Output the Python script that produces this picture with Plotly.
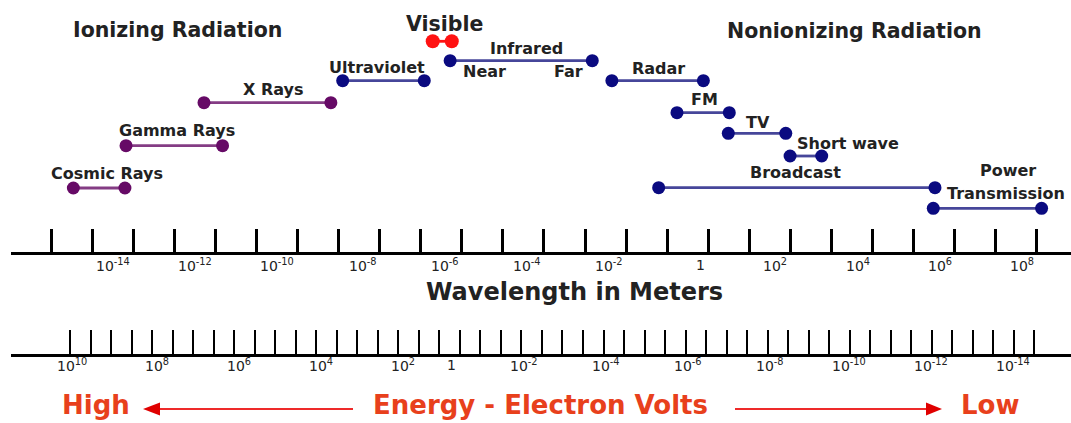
import math
import plotly.graph_objects as go

# ---------------- data ----------------
band_names = ["Cosmic Rays", "Gamma Rays", "X Rays", "Ultraviolet", "Visible", "Infrared",
              "Radar", "FM", "TV", "Short wave", "Broadcast", "Power Transmission"]
band_lo_m = [3.5e-16, 6.7e-15, 5.3e-13, 1.26e-9, 1.96e-7, 5.2e-7,
             4.5e-3, 0.173, 3.07, 98.0, 0.062, 3.0e5]
band_hi_m = [6.3e-15, 1.5e-12, 6.5e-10, 1.22e-7, 5.7e-7, 1.5e-3,
             0.76, 3.25, 77.0, 577.0, 3.3e5, 1.3e8]
band_kind = ["ionizing", "ionizing", "ionizing", "nonionizing", "visible", "nonionizing",
             "nonionizing", "nonionizing", "nonionizing", "nonionizing", "nonionizing", "nonionizing"]

wavelength_tick_exp = [-16, -15, -14, -13, -12, -11, -10, -9, -8, -7, -6, -5, -4,
                       -3, -2, -1, 0, 1, 2, 3, 4, 5, 6, 7, 8]
wavelength_label_exp = [-14, -12, -10, -8, -6, -4, -2, 0, 2, 4, 6, 8]

energy_tick_count = 48
energy_labels = ["10<sup>10</sup>", "10<sup>8</sup>", "10<sup>6</sup>", "10<sup>4</sup>",
                 "10<sup>2</sup>", "1", "10<sup>-2</sup>", "10<sup>-4</sup>", "10<sup>-6</sup>",
                 "10<sup>-8</sup>", "10<sup>-10</sup>", "10<sup>-12</sup>", "10<sup>-14</sup>"]
energy_label_tick = [1, 5, 9, 13, 17, 19, 23, 27, 31, 35, 39, 43, 47]

# ---------------- layout / style ----------------
W, H = 1071, 423
FONT = "DejaVu Sans"
def px_x(p): return p / W
def px_y(p): return 1 - p / H

# wavelength axis: 10^-16 at px 51, 41.08 px per decade
AX_LEFT = 11
L0 = -16 + (AX_LEFT - 51) / 41.08
L1 = -16 + (W - 51) / 41.08
TOP_AXIS_Y = 252
BOT_AXIS_Y = 354
# energy axis: tick 0 at px 70, 20.52 px per tick
E0 = (AX_LEFT - 70) / 20.52
E1 = (W - 70) / 20.52

row_y = {"Cosmic Rays": 188, "Gamma Rays": 145.7, "X Rays": 102.7, "Ultraviolet": 80.7,
         "Visible": 41.3, "Infrared": 60.7, "Radar": 80.7, "FM": 112.7, "TV": 133.3,
         "Short wave": 156, "Broadcast": 187.7, "Power Transmission": 208.3}
label_dx = {"Cosmic Rays": 8, "Gamma Rays": 3, "X Rays": 6, "Ultraviolet": -6,
            "Infrared": 5, "Radar": 1, "FM": 1, "TV": 1, "Short wave": 42, "Broadcast": -1}
label_dy = {"Cosmic Rays": 15, "Gamma Rays": 15.5, "X Rays": 13, "Ultraviolet": 13,
            "Infrared": 12.5, "Radar": 12.5, "FM": 13, "TV": 10.5, "Short wave": 13,
            "Broadcast": 15}
kind_style = {
    "ionizing": dict(marker="#660a66", line="#843c84"),
    "nonionizing": dict(marker="#0a0a80", line="#46469a"),
    "visible": dict(marker="#ff1212", line="#ff1212"),
}

fig = go.Figure()

for name, lo, hi, kind in zip(band_names, band_lo_m, band_hi_m, band_kind):
    st = kind_style[kind]
    y = row_y[name]
    fig.add_trace(go.Scatter(
        x=[lo, hi], y=[y, y], mode="lines+markers",
        line=dict(color=st["line"], width=2.8),
        marker=dict(color=st["marker"], size=14 if kind == "visible" else 13, line=dict(width=0)),
        hoverinfo="skip", showlegend=False, xaxis="x", yaxis="y"))

# energy axis carrier trace (invisible)
fig.add_trace(go.Scatter(x=[0, energy_tick_count - 1], y=[0, 0], mode="markers",
                         marker=dict(opacity=0), hoverinfo="skip", showlegend=False,
                         xaxis="x2", yaxis="y2"))

annotations = []
def ann(**kw):
    kw.setdefault("showarrow", False)
    kw.setdefault("xanchor", "center")
    kw.setdefault("yanchor", "middle")
    annotations.append(kw)

label_font = dict(family=FONT, size=16, color="#222222", weight="bold")
for name, lo, hi in zip(band_names, band_lo_m, band_hi_m):
    y = row_y[name]
    mid = (math.log10(lo) + math.log10(hi)) / 2
    if name == "Visible":
        continue
    if name == "Power Transmission":
        ann(x=mid, y=y, xref="x", yref="y", text="Power", xshift=21, yshift=38, font=label_font)
        ann(x=mid, y=y, xref="x", yref="y", text="Transmission", xshift=19, yshift=15,
            font=label_font)
        continue
    ann(x=mid, y=y, xref="x", yref="y", text=name, xshift=label_dx[name],
        yshift=label_dy[name], font=label_font)
    if name == "Infrared":
        ann(x=math.log10(lo), y=y, xref="x", yref="y", text="Near", xanchor="left",
            xshift=11, yshift=-11, font=label_font)
        ann(x=math.log10(hi), y=y, xref="x", yref="y", text="Far", xanchor="right",
            xshift=-7, yshift=-11, font=label_font)

# titles
title_font = dict(family=FONT, size=20.5, color="#222222", weight="bold")
ann(x=px_x(177.5), y=px_y(30), xref="paper", yref="paper", text="Ionizing Radiation",
    font=title_font)
ann(x=px_x(854), y=px_y(31), xref="paper", yref="paper", text="Nonionizing Radiation",
    font=title_font)
ann(x=px_x(444), y=px_y(24), xref="paper", yref="paper", text="Visible", font=title_font)

# wavelength tick labels
tick_font = dict(family=FONT, size=14, color="#222222")
for e in wavelength_label_exp:
    txt = "1" if e == 0 else "10<sup>%d</sup>" % e
    ann(x=e, y=px_y(265), xref="x", yref="paper", text=txt, xanchor="right", xshift=-1,
        font=tick_font)
ann(x=px_x(574), y=px_y(292), xref="paper", yref="paper", text="Wavelength in Meters",
    font=dict(family=FONT, size=24, color="#222222", weight="bold"))

# energy tick labels
for txt, t in zip(energy_labels, energy_label_tick):
    ann(x=t, y=px_y(365), xref="x2", yref="paper", text=txt, xanchor="right", xshift=-2,
        font=tick_font)

red_font = dict(family=FONT, size=26, color="#e8401c", weight="bold")
ann(x=px_x(96), y=px_y(405), xref="paper", yref="paper", text="High", font=red_font)
ann(x=px_x(540), y=px_y(405), xref="paper", yref="paper", text="Energy - Electron Volts",
    font=red_font)
ann(x=px_x(990), y=px_y(405), xref="paper", yref="paper", text="Low", font=red_font)

shapes = []
ARROW_Y = 409
for x_tail, x_base, x_tip in [(353, 160, 143), (735, 926, 942)]:
    shapes.append(dict(type="line", xref="paper", yref="paper",
                       x0=px_x(x_tail), x1=px_x(x_base), y0=px_y(ARROW_Y), y1=px_y(ARROW_Y),
                       line=dict(color="#ee2a2a", width=2)))
    shapes.append(dict(type="path", xref="paper", yref="paper",
                       path="M%f,%f L%f,%f L%f,%f Z" % (px_x(x_tip), px_y(ARROW_Y),
                                                        px_x(x_base), px_y(ARROW_Y - 6.5),
                                                        px_x(x_base), px_y(ARROW_Y + 6.5)),
                       fillcolor="#e00000", line=dict(width=0)))

fig.update_layout(
    width=W, height=H, margin=dict(l=0, r=0, t=0, b=0),
    paper_bgcolor="white", plot_bgcolor="white",
    annotations=annotations, shapes=shapes,
    xaxis=dict(type="log", domain=[px_x(AX_LEFT), 1], range=[L0, L1],
               tickmode="array", tickvals=[10 ** e for e in wavelength_tick_exp],
               ticks="inside", ticklen=23, tickwidth=2.5, tickcolor="black",
               showline=True, linewidth=3, linecolor="black", showticklabels=False,
               showgrid=False, zeroline=False, anchor="y"),
    yaxis=dict(domain=[px_y(TOP_AXIS_Y), 1], range=[TOP_AXIS_Y, 0], visible=False,
               showgrid=False, zeroline=False),
    xaxis2=dict(domain=[px_x(AX_LEFT), 1], range=[E0, E1], tickmode="array",
                tickvals=list(range(energy_tick_count)), ticks="inside", ticklen=24,
                tickwidth=2.3, tickcolor="black", showline=True, linewidth=3,
                linecolor="black", showticklabels=False, showgrid=False, zeroline=False,
                anchor="y2"),
    yaxis2=dict(domain=[px_y(BOT_AXIS_Y), px_y(BOT_AXIS_Y) + 0.05], range=[0, 1],
                visible=False, showgrid=False, zeroline=False),
)

fig.write_html("out.html", config={"displayModeBar": False},
               post_script="document.body.style.margin='0';document.body.style.overflow='hidden';")
